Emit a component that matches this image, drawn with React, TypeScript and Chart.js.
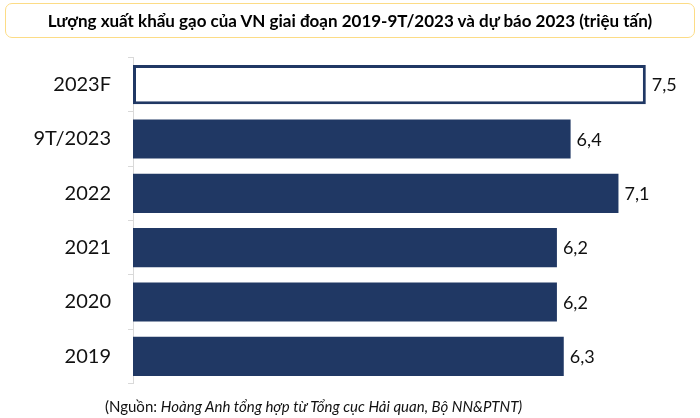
import React, { useEffect, useRef } from "react";
import { Chart, registerables } from "chart.js";

Chart.register(...registerables);

const categories: string[] = ["2023F", "9T/2023", "2022", "2021", "2020", "2019"];
const exportVolume: number[] = [7.5, 6.4, 7.1, 6.2, 6.2, 6.3];
const forecastFlags: boolean[] = [true, false, false, false, false, false];

const TITLE = "Lượng xuất khẩu gạo của VN giai đoạn 2019-9T/2023 và dự báo 2023 (triệu tấn)";
const SOURCE_PREFIX = "(Nguồn: ";
const SOURCE_BODY = "Hoàng Anh tổng hợp từ Tổng cục Hải quan, Bộ NN&PTNT)";

const NAVY = "#203864";
const FONT = "Lato, 'Open Sans', sans-serif";

const valueLabelPlugin = {
  id: "valueLabels",
  afterDatasetsDraw(chart: any) {
    const ctx = chart.ctx;
    const meta = chart.getDatasetMeta(0);
    const data = chart.data.datasets[0].data as number[];
    ctx.save();
    ctx.font = `18px ${FONT}`;
    ctx.fillStyle = "#111";
    ctx.textAlign = "left";
    ctx.textBaseline = "middle";
    meta.data.forEach((el: any, i: number) => {
      const txt = data[i].toFixed(1).replace(".", ",");
      ctx.fillText(txt, el.x + 6, el.y + 1);
    });
    ctx.restore();
  },
};

export default function App() {
  const canvasRef = useRef<HTMLCanvasElement | null>(null);

  useEffect(() => {
    if (!canvasRef.current) return;
    const chart = new Chart(canvasRef.current, {
      type: "bar",
      data: {
        labels: categories,
        datasets: [
          {
            data: exportVolume,
            backgroundColor: forecastFlags.map((f) => (f ? "#ffffff" : NAVY)),
            borderColor: NAVY,
            borderWidth: forecastFlags.map((f) => (f ? 3 : 0)),
            borderSkipped: false,
            barPercentage: 0.72,
            categoryPercentage: 1,
          },
        ],
      },
      options: {
        indexAxis: "y",
        responsive: false,
        animation: false,
        layout: { padding: { left: 0, right: 20, top: 57.5, bottom: 34.5 } },
        plugins: {
          legend: { display: false },
          tooltip: { enabled: false },
          title: { display: false },
        },
        scales: {
          x: { display: false, min: 0, max: 8 },
          y: {
            afterFit: (scale: any) => {
              scale.width = 133;
            },
            grid: {
              display: true,
              drawOnChartArea: false,
              drawTicks: true,
              tickLength: 5,
              color: "#d9d9d9",
            },
            border: { display: true, color: "#d9d9d9", width: 1 },
            ticks: {
              color: "#111",
              padding: 17,
              font: { family: FONT, size: 20 },
            },
          },
        },
      },
      plugins: [valueLabelPlugin],
    });
    return () => chart.destroy();
  }, []);

  return (
    <div
      style={{
        position: "fixed",
        left: 0,
        top: 0,
        width: 700,
        height: 418,
        background: "#fff",
        overflow: "hidden",
      }}
    >
      <canvas
        ref={canvasRef}
        width={700}
        height={418}
        style={{ position: "absolute", left: 0, top: 0, width: 700, height: 418 }}
      />
      <div
        style={{
          position: "absolute",
          left: 5,
          top: 3,
          width: 690,
          height: 35,
          boxSizing: "border-box",
          border: "1.5px solid #fcdc86",
          borderRadius: 7,
          display: "flex",
          alignItems: "center",
          justifyContent: "center",
          fontFamily: FONT,
          fontWeight: 700,
          fontSize: 17,
          color: "#000",
          whiteSpace: "nowrap",
        }}
      >
        {TITLE}
      </div>
      <div
        style={{
          position: "absolute",
          left: 105,
          top: 397,
          fontFamily: FONT,
          fontSize: 15,
          color: "#111",
          whiteSpace: "nowrap",
        }}
      >
        {SOURCE_PREFIX}
        <i>{SOURCE_BODY}</i>
      </div>
    </div>
  );
}
